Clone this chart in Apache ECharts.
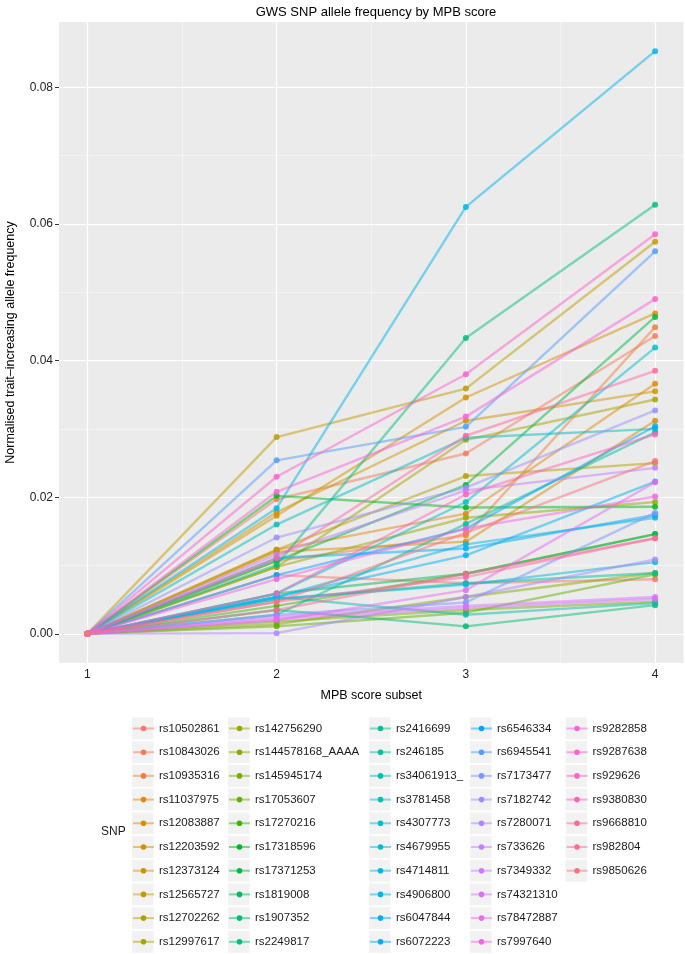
<!DOCTYPE html>
<html><head><meta charset="utf-8">
<script src="https://cdn.jsdelivr.net/npm/echarts@6/dist/echarts.min.js"></script>
<style>html,body{margin:0;padding:0;background:#fff}#c{width:685px;height:954px}</style>
</head><body><div id="c"></div>
<script>
// ---------------- data ----------------
const snpNames = ['rs10502861','rs10843026','rs10935316','rs11037975','rs12083887','rs12203592','rs12373124','rs12565727','rs12702262','rs12997617',
  'rs142756290','rs144578168_AAAA','rs145945174','rs17053607','rs17270216','rs17318596','rs17371253','rs1819008','rs1907352','rs2249817',
  'rs2416699','rs246185','rs34061913_','rs3781458','rs4307773','rs4679955','rs4714811','rs4906800','rs6047844','rs6072223',
  'rs6546334','rs6945541','rs7173477','rs7182742','rs7280071','rs733626','rs7349332','rs74321310','rs78472887','rs7997640',
  'rs9282858','rs9287638','rs929626','rs9380830','rs9668810','rs982804','rs9850626'];
const mpbSubsets = [1, 2, 3, 4];
// allele frequency per SNP (same order as snpNames) at each MPB score subset
const freqSubset1 = [0,0,0,0,0,0,0,0,0,0, 0,0,0,0,0,0,0,0,0,0, 0,0,0,0,0,0,0,0,0,0, 0,0,0,0,0,0,0,0,0,0, 0,0,0,0,0,0,0];
const freqSubset2 = [0.0086,0.0197,0.0107,0.0123,0.0120,0.0173,0.0178,0.0288,0.0123,0.0098,
  0.0098,0.0014,0.0018,0.0011,0.0041,0.0202,0.0107,0.0059,0.0035,0.0101,
  0.0028,0.0051,0.0054,0.0160,0.0059,0.0051,0.0054,0.0184,0.0054,0.0111,
  0.0086,0.0254,0.0028,0.0141,0.0001,0.0116,0.0025,0.0022,0.0020,0.0080,
  0.0208,0.0230,0.0059,0.0047,0.0111,0.0035,0.0047];
const freqSubset3 = [0.0074,0.0264,0.0144,0.0176,0.0135,0.0346,0.0312,0.0359,0.0231,0.0284,
  0.0170,0.0054,0.0035,0.0031,0.0088,0.0185,0.0218,0.0088,0.0011,0.0433,
  0.0161,0.0074,0.0028,0.0287,0.0193,0.0072,0.0131,0.0625,0.0115,0.0125,
  0.0154,0.0303,0.0046,0.0214,0.0054,0.0210,0.0041,0.0038,0.0064,0.0154,
  0.0318,0.0380,0.0204,0.0083,0.0290,0.0088,0.0148];
const freqSubset4 = [0.0080,0.0436,0.0449,0.0366,0.0312,0.0469,0.0355,0.0574,0.0250,0.0343,
  0.0193,0.0089,0.0047,0.0087,0.0146,0.0186,0.0464,0.0146,0.0042,0.0628,
  0.0295,0.0089,0.0045,0.0300,0.0419,0.0105,0.0170,0.0853,0.0223,0.0174,
  0.0304,0.0560,0.0177,0.0327,0.0109,0.0243,0.0054,0.0051,0.0222,0.0201,
  0.0490,0.0585,0.0292,0.0140,0.0385,0.0140,0.0253];
const xTickValues = [1, 2, 3, 4];
const yTickValues = [0, 0.02, 0.04, 0.06, 0.08];
const xMinorGrid = [1.5, 2.5, 3.5];
const yMinorGrid = [0.01, 0.03, 0.05, 0.07];

// ---------------- styling helpers ----------------
function hcl2hex(h, c, l) {
  const hr = h * Math.PI / 180;
  const U = c * Math.cos(hr), V = c * Math.sin(hr);
  const Xn = 95.047, Yn = 100.0, Zn = 108.883;
  const Y = l > 8 ? Yn * Math.pow((l + 16) / 116, 3) : Yn * l / 903.3;
  const t = Xn + 15 * Yn + 3 * Zn;
  const un = 4 * Xn / t, vn = 9 * Yn / t;
  const u = U / (13 * l) + un, v = V / (13 * l) + vn;
  const X = 9 * Y * u / (4 * v);
  const Z = -X / 3 - 5 * Y + 3 * Y / v;
  const x = X / 100, y = Y / 100, z = Z / 100;
  const lin = [3.240479 * x - 1.537150 * y - 0.498535 * z,
               -0.969256 * x + 1.875992 * y + 0.041556 * z,
               0.055648 * x - 0.204043 * y + 1.057311 * z];
  return '#' + lin.map(function (c0) {
    let g = c0 > 0.0031308 ? 1.055 * Math.pow(c0, 1 / 2.4) - 0.055 : 12.92 * c0;
    g = Math.max(0, Math.min(1, g));
    return Math.round(g * 255).toString(16).padStart(2, '0');
  }).join('');
}
const n = snpNames.length;
const colors = snpNames.map(function (_, i) { return hcl2hex(15 + i * 360 / n, 100, 65); });
const FONT = '"Liberation Sans", Arial, Helvetica, sans-serif';

const allVals = freqSubset1.concat(freqSubset2, freqSubset3, freqSubset4);
const yLo = Math.min.apply(null, allVals), yHi = Math.max.apply(null, allVals);
const yPad = (yHi - yLo) * 0.05;
const xLo = Math.min.apply(null, mpbSubsets), xHi = Math.max.apply(null, mpbSubsets);
const xPad = (xHi - xLo) * 0.05;

const cols = [freqSubset1, freqSubset2, freqSubset3, freqSubset4];
function seriesData(i) { return mpbSubsets.map(function (x, j) { return [x, cols[j][i]]; }); }

const series = [];
// grid lines drawn through the axes' scales
series.push({
  type: 'line', data: [], silent: true, z: 1,
  markLine: {
    silent: true, symbol: 'none', z: 1, animation: false, label: { show: false },
    emphasis: { disabled: true },
    data: [].concat(
      xMinorGrid.map(function (v) { return { xAxis: v, lineStyle: { color: '#fafafa', width: 0.6, type: 'solid' } }; }),
      yMinorGrid.map(function (v) { return { yAxis: v, lineStyle: { color: '#fafafa', width: 0.6, type: 'solid' } }; }),
      xTickValues.map(function (v) { return { xAxis: v, lineStyle: { color: '#ffffff', width: 1.2, type: 'solid' } }; }),
      yTickValues.map(function (v) { return { yAxis: v, lineStyle: { color: '#ffffff', width: 1.2, type: 'solid' } }; })
    )
  }
});
snpNames.forEach(function (name, i) {
  series.push({
    name: name, type: 'line', data: seriesData(i), showSymbol: false, symbol: 'circle',
    lineStyle: { color: colors[i], width: 2.4, opacity: 0.5 },
    itemStyle: { color: colors[i] }, z: 2, silent: true
  });
});
snpNames.forEach(function (name, i) {
  series.push({
    name: name, type: 'scatter', data: seriesData(i), symbol: 'circle', symbolSize: 6,
    itemStyle: { color: colors[i], opacity: 0.85 }, z: 3, silent: true
  });
});

// legend: 5 columns of 10
const perCol = 10;
const boxLefts = [132, 228, 369, 470, 565.5];
const rowTop = 717.5, rowPitch = 23.7;
const legends = [];
const graphics = [];
for (let c = 0; c * perCol < n; c++) {
  const names = snpNames.slice(c * perCol, (c + 1) * perCol);
  legends.push({
    data: names, orient: 'vertical', left: boxLefts[c], top: rowTop + 11 - 6,
    padding: 0, itemWidth: 21, itemHeight: 7, itemGap: rowPitch - 12,
    selectedMode: false,
    textStyle: { fontSize: 11.5, color: '#1a1a1a', fontFamily: FONT, height: 12, lineHeight: 12 }
  });
  names.forEach(function (_, r) {
    graphics.push({ type: 'rect', z: 0, silent: true,
      shape: { x: boxLefts[c], y: rowTop + r * rowPitch, width: 21.5, height: 22 },
      style: { fill: '#f2f2f2' } });
  });
}
graphics.push({ type: 'text', left: 101, top: 826, silent: true,
  style: { text: 'SNP', font: '12px ' + FONT, fill: '#1a1a1a' } });

const chart = echarts.init(document.getElementById('c'), null, { renderer: 'canvas' });
chart.setOption({
  animation: false,
  backgroundColor: '#ffffff',
  title: { text: 'GWS SNP allele frequency by MPB score', left: 371, top: 1, textAlign: 'center',
    textStyle: { fontSize: 13, fontWeight: 'normal', color: '#000', fontFamily: FONT } },
  grid: { left: 59, right: 1.5, top: 22, bottom: 291, show: true, backgroundColor: '#ebebeb', borderWidth: 0,
    containLabel: false, outerBoundsMode: 'none' },
  xAxis: {
    type: 'value', min: xLo - xPad, max: xHi + xPad,
    name: 'MPB score subset', nameLocation: 'middle', nameGap: 26,
    nameTextStyle: { fontSize: 12.5, color: '#000', fontFamily: FONT },
    axisLine: { show: false },
    axisTick: { show: true, customValues: xTickValues, length: 4, lineStyle: { color: '#333', width: 1 } },
    axisLabel: { customValues: xTickValues, fontSize: 12, color: '#222', fontFamily: FONT, margin: 6,
      formatter: function (v) { return String(v); } },
    splitLine: { show: false }
  },
  yAxis: {
    type: 'value', min: yLo - yPad, max: yHi + yPad,
    name: 'Normalised trait\u2013increasing allele frequency', nameLocation: 'middle', nameGap: 42,
    nameTextStyle: { fontSize: 12.5, color: '#000', fontFamily: FONT },
    axisLine: { show: false },
    axisTick: { show: true, customValues: yTickValues, length: 4, lineStyle: { color: '#333', width: 1 } },
    axisLabel: { customValues: yTickValues, fontSize: 12, color: '#222', fontFamily: FONT, margin: 6,
      formatter: function (v) { return v.toFixed(2); } },
    splitLine: { show: false }
  },
  legend: legends,
  graphic: graphics,
  series: series
});
</script></body></html>
